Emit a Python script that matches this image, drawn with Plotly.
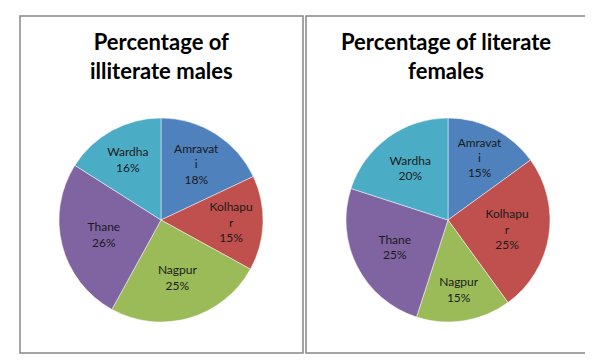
import plotly.graph_objects as go

districts = ["Amravati", "Kolhapur", "Nagpur", "Thane", "Wardha"]
label_text = ["Amravat<br>i", "Kolhapu<br>r", "Nagpur", "Thane", "Wardha"]
illiterate_males = [18, 15, 25, 26, 16]
literate_females = [15, 25, 15, 25, 20]
titles = ["Percentage of<br>illiterate males", "Percentage of literate<br>females"]
colors = ["#4F81BD", "#C0504D", "#9BBB59", "#8064A2", "#4BACC6"]

W, H = 593, 360

def px_x(v):
    return v / W

def px_y(v):
    return 1 - v / H

fig = go.Figure()

pie_specs = [
    (illiterate_males, [px_x(51), px_x(255)]),
    (literate_females, [px_x(338), px_x(542)]),
]
for vals, dx in pie_specs:
    fig.add_trace(go.Pie(
        labels=districts,
        values=vals,
        text=label_text,
        texttemplate="%{text}<br>%{percent:.0%}",
        textposition="inside",
        insidetextorientation="horizontal",
        sort=False,
        direction="clockwise",
        rotation=0,
        marker=dict(colors=colors, line=dict(color="rgba(255,255,255,0.6)", width=0.8)),
        textfont=dict(family="Lato, Carlito, sans-serif", size=12, color="#1a1a1a"),
        domain=dict(x=dx, y=[px_y(314), px_y(110)]),
        showlegend=False,
        hoverinfo="label+percent",
    ))

# panel borders
for x0, x1 in [(12, 295), (298, 581)]:
    fig.add_shape(type="rect", xref="paper", yref="paper",
                  x0=px_x(x0), x1=px_x(x1), y0=px_y(345), y1=px_y(8),
                  line=dict(color="#878787", width=1.5), fillcolor="rgba(0,0,0,0)")

for t, cx in zip(titles, [153, 438]):
    fig.add_annotation(text="<b>" + t + "</b>", xref="paper", yref="paper",
                       x=px_x(cx), y=px_y(48), xanchor="center", yanchor="middle",
                       showarrow=False, align="center",
                       font=dict(family="Lato, Carlito, sans-serif", size=22, color="#000000"))

fig.update_layout(
    width=W, height=H,
    margin=dict(l=0, r=0, t=0, b=0),
    paper_bgcolor="white", plot_bgcolor="white",
)

fig.write_html("out.html")
